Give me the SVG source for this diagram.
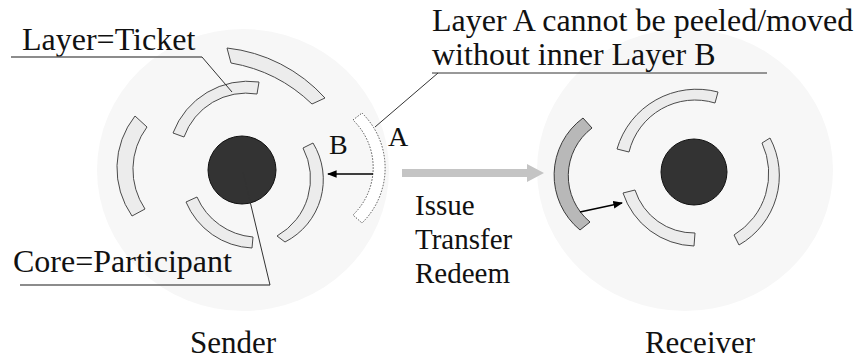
<svg xmlns="http://www.w3.org/2000/svg" width="865" height="360" viewBox="0 0 865 360">
  <style>
    text { font-family: "Liberation Serif", "Times New Roman", serif; font-size: 32px; fill: #111; }
    .small { font-size: 28px; }
    .name { font-size: 31px; }
    .ops { font-size: 29px; }
    .bg { fill: #f7f7f7; }
    .layer { fill: #ececec; stroke: #4a4a4a; stroke-width: 1; }
    .layer-dark { fill: #b8b8b8; stroke: #3a3a3a; stroke-width: 1; }
    .core { fill: #333; stroke: #111; stroke-width: 1; }
    .peeled { fill: #fff; stroke: #555; stroke-width: 1; stroke-dasharray: 1.5 1.5; }
    .rule { stroke: #666; stroke-width: 1.5; fill: none; }
    .lead { stroke: #333; stroke-width: 1; fill: none; }
    .move { stroke: #000; stroke-width: 1.6; fill: none; marker-end: url(#head); }
  </style>
  <defs>
    <marker id="head" viewBox="0 0 10 10" refX="9" refY="5" markerWidth="6" markerHeight="6" markerUnits="strokeWidth" orient="auto">
      <path d="M0,1 L10,5 L0,9 Z" fill="#000"/>
    </marker>
  </defs>

  <!-- sender: core with its layers -->
  <g id="sender">
    <ellipse class="bg" cx="243" cy="170" rx="146" ry="141"/>
    <path class="layer" d="M227,48 A155,155 0 0 1 325,98 L312,104 A155,155 0 0 0 231,63 Z"/>
    <path class="layer" d="M173,133 A80,80 0 0 1 259,82 L257,94 A66,66 0 0 0 184,137 Z"/>
    <path class="layer" d="M132,216 A84,84 0 0 1 135,116 L147,127 A71,71 0 0 0 145,209 Z"/>
    <path class="layer" d="M313,143 A70,70 0 0 1 285,242 L277,236 A66,66 0 0 0 303,148 Z"/>
    <path class="layer" d="M252,248 A75,75 0 0 1 186,202 L197,197 A67,67 0 0 0 253,237 Z"/>
    <circle class="core" cx="242" cy="170" r="34"/>
    <text class="name" x="233" y="353" text-anchor="middle">Sender</text>
  </g>

  <!-- outer layer A, lifted off -->
  <g id="layer-a">
    <path class="peeled" d="M362,113 A77,77 0 0 1 362,223 L353,215 A66,66 0 0 0 353,120 Z"/>
    <text class="small" x="388" y="146">A</text>
  </g>

  <g id="layer-b">
    <text class="small" x="329" y="154">B</text>
  </g>

  <!-- receiver: core with its layers -->
  <g id="receiver">
    <ellipse class="bg" cx="685" cy="170" rx="148" ry="141"/>
    <path class="layer-dark" d="M580,230 A71,71 0 0 1 583,118 L592,128 A60,60 0 0 0 590,222 Z"/>
    <path class="layer" d="M694,246 A77,77 0 0 1 623,193 L635,190 A62,62 0 0 0 695,233 Z"/>
    <path class="layer" d="M617,149 A83,83 0 0 1 718,92 L715,103 A68,68 0 0 0 629,152 Z"/>
    <path class="layer" d="M770,138 A80,80 0 0 1 739,245 L734,235 A72,72 0 0 0 762,143 Z"/>
    <circle class="core" cx="694" cy="172" r="33"/>
    <text class="name" x="700" y="353" text-anchor="middle">Receiver</text>
  </g>

  <!-- callouts -->
  <g id="label-ticket">
    <text x="22" y="50">Layer=Ticket</text>
    <line class="rule" x1="11" y1="57" x2="202" y2="57"/>
  </g>
  <g id="label-participant">
    <text x="13" y="272">Core=Participant</text>
    <line class="rule" x1="20" y1="285" x2="270" y2="285"/>
  </g>
  <g id="label-rule">
    <text x="432" y="31">Layer A cannot be peeled/moved</text>
    <text x="432" y="65">without inner Layer B</text>
    <line class="lead" x1="432" y1="73" x2="767" y2="73"/>
  </g>
  <g id="label-ops">
    <text class="ops" x="415" y="215">Issue</text>
    <text class="ops" x="415" y="249">Transfer</text>
    <text class="ops" x="415" y="283">Redeem</text>
  </g>

  <!-- connectors -->
  <g id="connectors">
    <line class="lead" x1="202" y1="57" x2="232" y2="92"/>
    <line class="lead" x1="270" y1="285" x2="243" y2="172"/>
    <line class="lead" x1="438" y1="73" x2="375" y2="127"/>
    <line class="move" x1="373" y1="174" x2="328" y2="174"/>
    <line class="move" x1="580" y1="212" x2="622" y2="203"/>
    <polygon points="402,169 527,169 527,164 544,173 527,182 527,177 402,177" fill="#c4c4c4"/>
  </g>
</svg>
